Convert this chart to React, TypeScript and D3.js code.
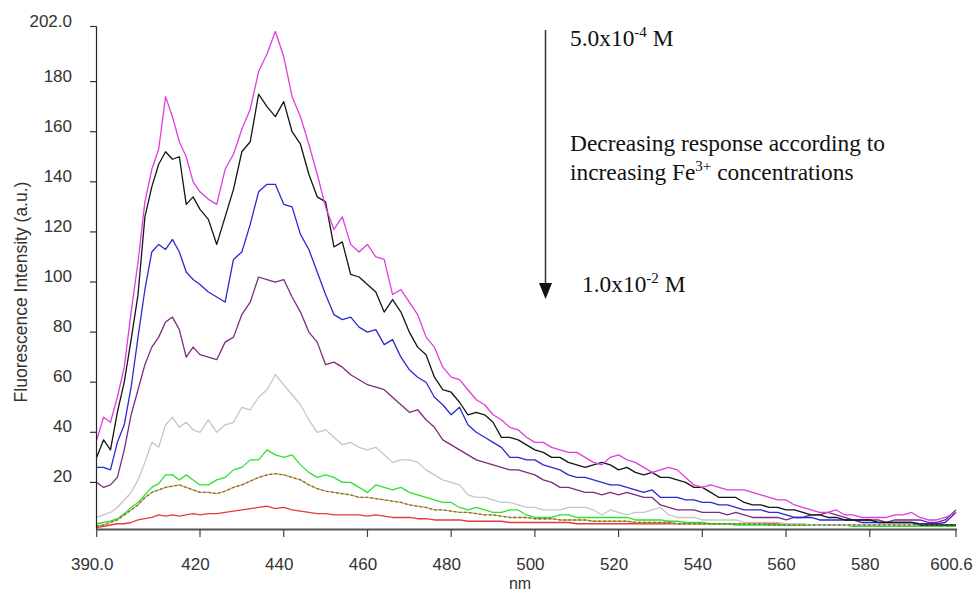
import React from 'react';
import * as d3 from 'd3';

// Wavelength grid (nm)
const wavelengths = [
  390, 392, 394, 396, 398, 400, 402, 404, 406, 408,
  410, 412, 414, 416, 418, 420, 422, 424, 426, 428,
  430, 432, 434, 436, 438, 440, 442, 444, 446, 448,
  450, 452, 454, 456, 458, 460, 462, 464, 466, 468,
  470, 472, 474, 476, 478, 480, 482, 484, 486, 488,
  490, 492, 494, 496, 498, 500, 502, 504, 506, 508,
  510, 512, 514, 516, 518, 520, 522, 524, 526, 528,
  530, 532, 534, 536, 538, 540, 542, 544, 546, 548,
  550, 552, 554, 556, 558, 560, 562, 564, 566, 568,
  570, 572, 574, 576, 578, 580, 582, 584, 586, 588,
  590, 592, 594, 596, 598, 600.6,
];

const magentaSeries = [
  37, 46, 44, 54, 66, 88, 108, 132, 145, 153,
  174, 166, 156, 150, 140, 136, 133, 131, 145, 151,
  161, 169, 184, 191, 200, 190, 174, 166, 155, 143,
  130, 121, 126, 115, 112, 115, 110, 109, 95, 97,
  92, 87, 78, 74, 66, 62, 61, 57, 53, 51,
  47, 45, 42, 41, 38, 36, 36, 34, 33, 32,
  32, 30, 28, 27, 30, 31, 29, 28, 26, 24,
  25, 26, 25, 22, 19, 18, 19, 18, 17, 17,
  17, 16, 15, 14, 13, 13, 11, 10, 9, 8,
  8, 9, 7, 7, 6, 6, 6, 6, 7, 7,
  8, 6, 5, 5, 6, 8,
];

const blackSeries = [
  30, 37, 33, 48, 60, 77, 95, 126, 138, 147,
  152, 149, 150, 131, 134, 129, 125, 115, 126, 137,
  152, 156, 175, 170, 166, 172, 160, 155, 143, 134,
  132, 114, 116, 103, 102, 99, 96, 88, 93, 88,
  80, 74, 71, 62, 57, 56, 52, 47, 48, 47,
  44, 38, 38, 37, 35, 33, 32, 30, 30, 28,
  27, 26, 27, 28, 27, 25, 26, 24, 23, 24,
  22, 22, 21, 20, 18, 18, 16, 14, 14, 14,
  12, 11, 11, 10, 10, 9, 9, 8, 7, 7,
  6, 6, 5, 5, 5, 5, 4, 4, 4, 4,
  4, 3, 3, 3, 3, 3,
];

const blueSeries = [
  26, 26, 25, 36, 43, 58, 78, 97, 112, 115,
  113, 117, 112, 104, 101, 99, 96, 94, 92, 109,
  112, 123, 136, 139, 139, 131, 130, 119, 113, 104,
  95, 87, 85, 86, 82, 80, 81, 75, 77, 70,
  65, 62, 60, 54, 51, 47, 50, 43, 40, 38,
  36, 34, 30, 30, 29, 29, 27, 26, 25, 23,
  22, 22, 21, 20, 19, 19, 18, 17, 16, 17,
  14, 14, 14, 13, 13, 12, 12, 11, 11, 10,
  9, 9, 9, 8, 8, 7, 6, 6, 6, 5,
  5, 5, 5, 5, 4, 4, 4, 4, 4, 4,
  4, 3.5, 3.5, 3.5, 4, 8,
];

const purpleSeries = [
  20, 18, 19, 22, 33, 47, 57, 67, 74, 78,
  84, 86, 81, 70, 74, 71, 70, 69, 76, 78,
  87, 92, 102, 101, 100, 101, 94, 88, 80, 76,
  67, 68, 66, 63, 61, 59, 58, 57, 54, 51,
  48, 49, 45, 42, 37, 35, 33, 31, 29, 28,
  27, 26, 25, 25, 24, 23, 21, 20, 18, 18,
  17, 16, 16, 15, 16, 15, 16, 15, 14, 14,
  11, 10, 9, 9, 9, 8, 8, 8, 7, 8,
  7, 6, 6, 6, 6, 5, 6, 6, 7, 7,
  8, 7, 6, 5, 5, 5, 5, 4, 5, 5,
  5, 5, 4, 4, 5, 9,
];

const graySeries = [
  6, 7, 8, 10, 13, 16, 21, 28, 36, 34,
  43, 46, 42, 44, 41, 40, 45, 40, 43, 44,
  50, 49, 54, 57, 63, 59, 55, 51, 45, 40,
  41, 38, 35, 36, 34, 33, 34, 31, 28, 29,
  29, 28, 25, 23, 21, 20, 19, 15, 14, 14,
  13, 12, 12, 11, 10, 10, 9, 9, 9, 10,
  10, 10, 9, 7, 9, 8, 7, 8, 8, 9,
  10, 7, 6, 6, 6, 5, 5, 5, 5, 5,
  4, 4, 4, 4, 4, 3.5, 3.5, 3.5, 3, 3,
  3, 3, 3, 3, 3, 3, 3, 3, 3, 3,
  3, 3, 3, 3, 3, 3,
];

const greenSeries = [
  3.5, 4, 4.5, 5.5, 7.5, 10, 12, 15, 18, 19.5,
  23, 23, 21, 23, 21, 19, 19, 21, 22, 25,
  26, 29, 29, 33, 31, 30, 31, 27, 24, 22,
  23, 22, 20, 20, 18, 16, 19, 18, 17, 18,
  16, 15, 14, 13, 12, 12, 10, 9, 10, 9,
  8, 8, 9, 9, 7, 6, 6, 6, 7, 7,
  6, 6, 6, 6, 6, 6, 6, 5, 5, 5,
  5, 4.5, 4.5, 4, 4, 4, 3.5, 3.5, 3.5, 3,
  3, 3, 3, 3, 3, 3, 3, 3, 3, 3,
  3, 3, 3, 2.5, 2.5, 2.5, 2.5, 2.5, 2.5, 2.5,
  2.5, 2.5, 2.5, 2.5, 2.5, 2.5,
];

const oliveSeries = [
  2.5, 3, 4, 5, 7, 9, 11, 14, 16, 17,
  18, 18.5, 19, 18, 17, 16, 16, 15.5, 16.5, 18,
  19, 20.5, 22, 23, 23.5, 23, 22, 21, 19, 17.5,
  16.5, 16, 15.5, 15, 14, 14, 13.5, 13, 12.5, 12,
  11, 10.5, 10, 9, 9, 8.5, 8, 8, 7.5, 7,
  7, 6.5, 6, 6, 6, 5.5, 5.5, 5.5, 5, 5,
  5, 5, 4.5, 4.5, 4.5, 4.5, 4.5, 4, 4, 4,
  4, 4, 3.5, 3.5, 3.5, 3.5, 3.5, 3.5, 3.5, 3.5,
  3.5, 3.5, 3.5, 3, 3, 3, 3, 3, 3, 3,
  3, 3, 3, 3, 3, 3, 3, 3, 3, 3,
  3, 3, 3, 3, 3, 3,
];

const redSeries = [
  2, 2.5, 3, 3.5, 3.5, 4, 5, 5.5, 6, 7,
  6.5, 7, 6.5, 7, 7.5, 7, 7.5, 7.5, 8, 8.5,
  9, 9.5, 10, 10.5, 9.5, 10, 9, 8.5, 8, 7.5,
  7.5, 7, 7, 7, 7, 6.5, 7, 6.5, 6, 6,
  6, 5.5, 5.5, 5, 5, 5, 5, 4.5, 4.5, 4.5,
  4.5, 4.5, 4, 4, 4, 4, 4, 4, 4, 4,
  3.5, 3.5, 3.5, 3.5, 3.5, 3.5, 3.5, 3.5, 3.5, 3.5,
  3.5, 3.5, 3.5, 3.5, 3.5, 3.5, 3.5, 3.5, 3.5, 3.5,
  3.5, 3.5, 3.5, 3.5, 3.5, 3, 3, 3, 3, 3,
  3, 3, 3, 3, 3, 3, 3, 3, 3, 3,
  3, 3, 3, 3, 3, 3,
];

const yTicks = [20, 40, 60, 80, 100, 120, 140, 160, 180, 202];
const yTickLabels = ['20', '40', '60', '80', '100', '120', '140', '160', '180', '202.0'];
const xTicks = [390, 420, 440, 460, 480, 500, 520, 540, 560, 580, 600.6];
const xTickLabels = ['390.0', '420', '440', '460', '480', '500', '520', '540', '560', '580', '600.6'];

const seriesList = [
  { values: redSeries, color: '#e23b3b' },
  { values: oliveSeries, color: '#c9a35a' },
  { values: greenSeries, color: '#2fe02f' },
  { values: graySeries, color: '#c6c6c6' },
  { values: purpleSeries, color: '#7a2d7c' },
  { values: blueSeries, color: '#2a2ad2' },
  { values: blackSeries, color: '#151515' },
  { values: magentaSeries, color: '#e03ce0' },
];

const x = d3.scaleLinear().domain([390, 420, 600.6]).range([96.7, 200, 956]);
const y = d3.scaleLinear().domain([1.2, 202]).range([529.5, 26.5]);

const sans = '"Liberation Sans", Arial, sans-serif';
const serif = '"Liberation Serif", "Times New Roman", serif';

export default function App() {
  const line = (vals: number[]) =>
    d3
      .line<number>()
      .x((_, i) => x(wavelengths[i]))
      .y((v) => y(v))(vals) || '';

  return (
    <svg
      width={973}
      height={594}
      style={{ position: 'absolute', left: 0, top: 0, background: '#fff' }}
    >
      <rect x={0} y={0} width={973} height={594} fill="#fff" />
      {/* series */}
      <g fill="none" strokeWidth={1.3} strokeLinejoin="round">
        {seriesList.map((s, i) => (
          <path key={i} d={line(s.values)} stroke={s.color} />
        ))}
        <path
          d={line(oliveSeries)}
          stroke="#6d6a2c"
          strokeDasharray="2,3"
          strokeWidth={1.3}
        />
      </g>

      {/* x axis */}
      <line x1={96.5} x2={957} y1={529.5} y2={529.5} stroke="#555" strokeWidth={2} />
      {xTicks.map((t, i) => (
        <g key={t}>
          <line x1={x(t)} x2={x(t)} y1={529.5} y2={537} stroke="#444" strokeWidth={1.2} />
          <text
            x={x(t) - 4.5}
            y={570}
            textAnchor="middle"
            fontFamily={sans}
            fontSize={17}
            fill="#333"
          >
            {xTickLabels[i]}
          </text>
        </g>
      ))}
      <text x={520} y={589} textAnchor="middle" fontFamily={sans} fontSize={16} fill="#333">
        nm
      </text>

      {/* y axis */}
      <line x1={96.5} x2={96.5} y1={y(202)} y2={529.5} stroke="#222" strokeWidth={1.2} />
      {yTicks.map((t, i) => (
        <g key={t}>
          <line x1={90} x2={96.5} y1={y(t)} y2={y(t)} stroke="#333" strokeWidth={1.2} />
          <text
            x={72}
            y={y(t)}
            textAnchor="end"
            fontFamily={sans}
            fontSize={17}
            fill="#333"
          >
            {yTickLabels[i]}
          </text>
        </g>
      ))}
      <text
        transform="translate(27,292) rotate(-90)"
        textAnchor="middle"
        fontFamily={sans}
        fontSize={17.5}
        fill="#333"
      >
        Fluorescence Intensity (a.u.)
      </text>

      {/* annotation arrow */}
      <line x1={545.5} x2={545.5} y1={30} y2={286} stroke="#333" strokeWidth={1.5} />
      <polygon points="539,283 552,283 545.5,299" fill="#111" />

      <text x={570} y={46} fontFamily={serif} fontSize={23.4} fill="#111">
        5.0x10
        <tspan dy={-9} fontSize={15}>-4</tspan>
        <tspan dy={9}> M</tspan>
      </text>
      <text x={570} y={151} fontFamily={serif} fontSize={23.4} fill="#111">
        Decreasing response according to
      </text>
      <text x={570} y={180} fontFamily={serif} fontSize={23.4} fill="#111">
        increasing Fe
        <tspan dy={-9} fontSize={15}>3+</tspan>
        <tspan dy={9}> concentrations</tspan>
      </text>
      <text x={582} y={292} fontFamily={serif} fontSize={23.4} fill="#111">
        1.0x10
        <tspan dy={-9} fontSize={15}>-2</tspan>
        <tspan dy={9}> M</tspan>
      </text>
    </svg>
  );
}
